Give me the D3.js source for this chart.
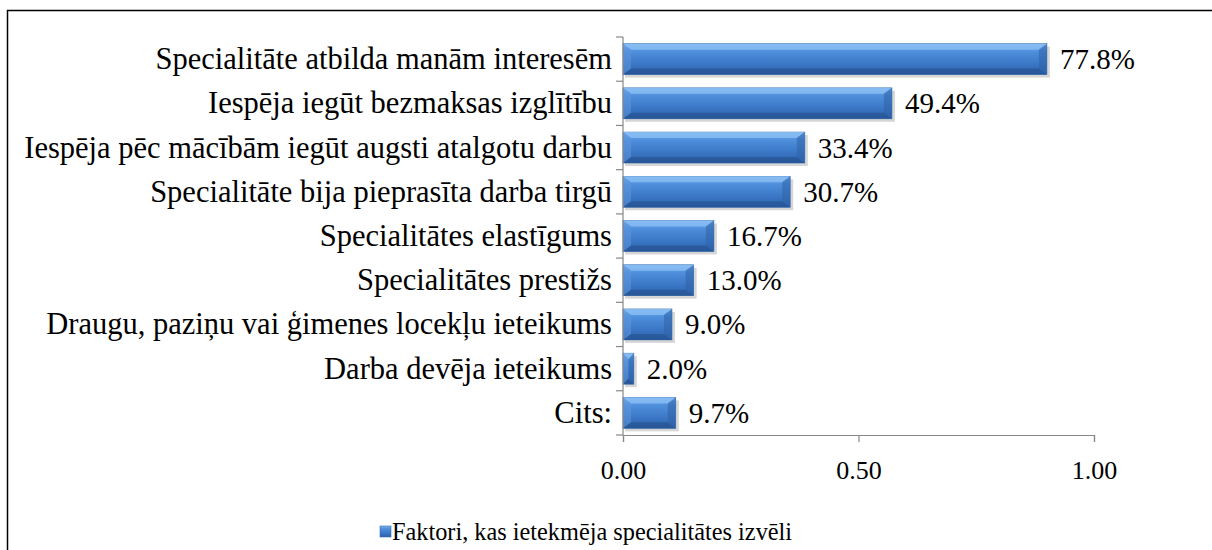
<!DOCTYPE html>
<html>
<head>
<meta charset="utf-8">
<script src="https://d3js.org/d3.v7.min.js"></script>
</head>
<body style="margin:0">
<svg id="vis" width="1212" height="550"></svg>
<script>
  var categories = [
    "Specialitāte atbilda manām interesēm",
    "Iespēja iegūt bezmaksas izglītību",
    "Iespēja pēc mācībām iegūt augsti atalgotu darbu",
    "Specialitāte bija pieprasīta darba tirgū",
    "Specialitātes elastīgums",
    "Specialitātes prestižs",
    "Draugu, paziņu vai ģimenes locekļu ieteikums",
    "Darba devēja ieteikums",
    "Cits:"
  ]
  // bar lengths as read against the axis
  var barValues = [0.900, 0.571, 0.386, 0.355, 0.193, 0.150, 0.104, 0.023, 0.112]
  // data labels printed next to the bars
  var barLabels = ["77.8%", "49.4%", "33.4%", "30.7%", "16.7%", "13.0%", "9.0%", "2.0%", "9.7%"]
  var xTicks = [0, 0.5, 1.0]
  var seriesName = "Faktori, kas ietekmēja specialitātes izvēli"

  var serif = '"Liberation Serif"'

  var svg = d3.select('#vis')

  // outer frame
  svg.append('rect')
    .attr('x', 7.5).attr('y', 10.5)
    .attr('width', 1210).attr('height', 560)
    .attr('fill', 'none')
    .attr('stroke', '#000')
    .attr('stroke-width', 1.5)

  var defs = svg.append('defs')
  var grad = defs.append('linearGradient')
    .attr('id', 'barGrad')
    .attr('x1', 0).attr('y1', 0).attr('x2', 0).attr('y2', 1)
  grad.append('stop').attr('offset', '0%').attr('stop-color', '#7bb3ef')
  grad.append('stop').attr('offset', '25%').attr('stop-color', '#4f8fdc')
  grad.append('stop').attr('offset', '65%').attr('stop-color', '#3b77c6')
  grad.append('stop').attr('offset', '100%').attr('stop-color', '#2d62a8')

  var x = d3.scaleLinear()
    .domain([0, 1])
    .range([623, 1094])

  var y = d3.scaleBand()
    .domain(categories)
    .range([37, 435])
    .paddingInner(0.3)
    .paddingOuter(0.15)

  // bars
  var bars = svg.selectAll('g.bar')
    .data(categories)
    .enter().append('g')
    .attr('class', 'bar')

  // soft shadow under each bar
  bars.append('rect')
    .attr('x', x(0) + 2)
    .attr('y', function (d) { return y(d) + 3 })
    .attr('width', function (d, i) { return x(barValues[i]) - x(0) + 1 })
    .attr('height', y.bandwidth())
    .attr('fill', '#000')
    .attr('opacity', 0.16)

  bars.append('rect')
    .attr('x', x(0))
    .attr('y', function (d) { return y(d) })
    .attr('width', function (d, i) { return x(barValues[i]) - x(0) })
    .attr('height', y.bandwidth())
    .attr('fill', 'url(#barGrad)')
    .attr('stroke', '#3a6fb0')
    .attr('stroke-width', 0.6)

  // bevel edges
  function bevel(d, i, side) {
    var x0 = x(0), x1 = x(barValues[i]), y0 = y(d), y1 = y(d) + y.bandwidth()
    var bx = Math.min(8, (x1 - x0) / 2), by = 6
    if (side == 'top') return 'M' + x0 + ',' + y0 + 'L' + x1 + ',' + y0 + 'L' + (x1 - bx) + ',' + (y0 + by) + 'L' + (x0 + bx) + ',' + (y0 + by) + 'Z'
    if (side == 'bottom') return 'M' + x0 + ',' + y1 + 'L' + x1 + ',' + y1 + 'L' + (x1 - bx) + ',' + (y1 - by) + 'L' + (x0 + bx) + ',' + (y1 - by) + 'Z'
    if (side == 'right') return 'M' + x1 + ',' + y0 + 'L' + x1 + ',' + y1 + 'L' + (x1 - bx) + ',' + (y1 - by) + 'L' + (x1 - bx) + ',' + (y0 + by) + 'Z'
    return 'M' + x0 + ',' + y0 + 'L' + x0 + ',' + y1 + 'L' + (x0 + bx) + ',' + (y1 - by) + 'L' + (x0 + bx) + ',' + (y0 + by) + 'Z'
  }
  var bevels = [['top', '#8cc0f4', 0.75], ['bottom', '#24508e', 0.6], ['right', '#2f63a6', 0.55], ['left', '#5f98dc', 0.55]]
  bevels.forEach(function (b) {
    bars.append('path')
      .attr('d', function (d, i) { return bevel(d, i, b[0]) })
      .attr('fill', b[1]).attr('opacity', b[2])
  })

  // value labels
  bars.append('text')
    .attr('x', function (d, i) { return x(barValues[i]) + 13 })
    .attr('y', function (d) { return y(d) + y.bandwidth() / 2 + 10 })
    .style('font-family', serif)
    .style('font-size', '29px')
    .text(function (d, i) { return barLabels[i] })

  // y axis
  var yAxis = svg.append('g')
  yAxis.append('line')
    .attr('x1', x(0)).attr('x2', x(0))
    .attr('y1', 37).attr('y2', 435)
    .attr('stroke', '#888').attr('stroke-width', 1.2)
  var bounds = categories.map(function (d) { return y(d) - y.step() * y.paddingInner() / 2 })
  bounds.push(435)
  yAxis.selectAll('line.tk')
    .data(bounds)
    .enter().append('line')
    .attr('class', 'tk')
    .attr('x1', x(0) - 7).attr('x2', x(0))
    .attr('y1', function (d) { return d }).attr('y2', function (d) { return d })
    .attr('stroke', '#888').attr('stroke-width', 1.2)
  yAxis.selectAll('text')
    .data(categories)
    .enter().append('text')
    .attr('x', x(0) - 11)
    .attr('y', function (d) { return y(d) + y.bandwidth() / 2 + 10 })
    .attr('text-anchor', 'end')
    .style('font-family', serif)
    .style('font-size', '30.5px')
    .text(function (d) { return d })

  // x axis
  var xAxis = svg.append('g')
    .attr('transform', 'translate(0,435)')
    .call(d3.axisBottom(x).tickValues(xTicks).tickSize(7).tickPadding(19)
      .tickFormat(d3.format('.2f')))
  xAxis.select('.domain').attr('stroke', '#888').attr('stroke-width', 1.2)
  xAxis.selectAll('.tick line').attr('stroke', '#888').attr('stroke-width', 1.2)
  xAxis.selectAll('.tick text')
    .style('font-family', serif)
    .style('font-size', '26px')
    .attr('fill', '#000')

  // legend
  var legend = svg.append('g').attr('transform', 'translate(380,532)')
  legend.append('rect')
    .attr('x', 0).attr('y', -6).attr('width', 11).attr('height', 11)
    .attr('fill', 'url(#barGrad)')
    .attr('stroke', '#3a6fb0').attr('stroke-width', 0.6)
  legend.append('text')
    .attr('x', 12).attr('y', 8)
    .style('font-family', serif)
    .style('font-size', '24.3px')
    .text(seriesName)
</script>
</body>
</html>
